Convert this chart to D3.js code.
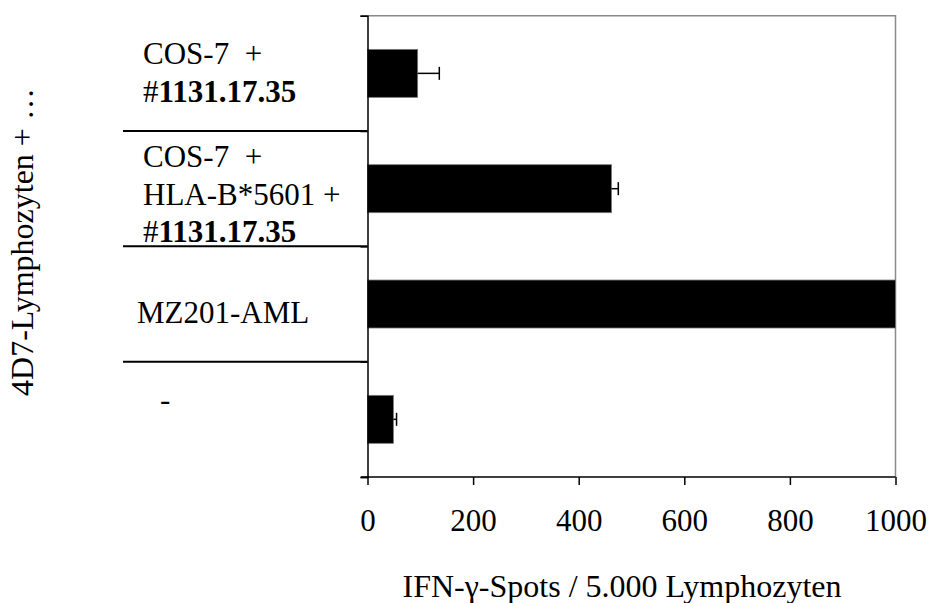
<!DOCTYPE html>
<html>
<head>
<meta charset="utf-8">
<script src="https://cdn.jsdelivr.net/npm/d3@7"></script>
<style>
  body { margin: 0; background: #fff; }
  svg { display: block; font-family: "Liberation Serif", "Times New Roman", serif; }
  .lbl { font-size: 31px; white-space: pre; }
  .ttl { font-size: 32px; }
</style>
</head>
<body>
<svg id="chart" width="937" height="603"></svg>
<script>
// categories top to bottom, as in the figure
var categories = ["COS-7 + #1131.17.35", "COS-7 + HLA-B*5601 + #1131.17.35", "MZ201-AML", "-"];
var values = [95, 462, 1000, 49];
var errors = [41, 13, 0, 6];
var xTicks = [0, 200, 400, 600, 800, 1000];
// label lines, [text, bold?] segments
var labelLines = [
  [[["COS-7  +", false]], [["#", false], ["1131.17.35", true]]],
  [[["COS-7  +", false]], [["HLA-B*5601 +", false]], [["#", false], ["1131.17.35", true]]],
  [[["MZ201-AML", false]]],
  [[["-", false]]]
];
var xTitle = "IFN-\u03b3-Spots / 5.000 Lymphozyten";
var yTitle = "4D7-Lymphozyten + \u2026";

function drawChart() {
  var svg = d3.select("#chart");
  var pLeft = 367.5, pRight = 895.5, pTop = 15.7, pBottom = 477;

  var x = d3.scaleLinear().domain([0, 1000]).range([pLeft, pRight]);
  var y = d3.scaleBand().domain(categories).range([pTop, pBottom])
    .paddingInner(0.584).paddingOuter(0.292);
  var step = y.step();

  // label placement (x start, first baseline offset from band top)
  var labelPos = [[143, 48.3], [143, 36], [137, 76.8], [160, 48]];
  var lineGap = 37.7;

  // plot border top/right
  svg.append("path")
    .attr("d", "M" + pLeft + "," + pTop + "H" + pRight + "V" + pBottom)
    .attr("fill", "none").attr("stroke", "#8a8a8a").attr("stroke-width", 1.5);

  // separators between categories
  for (var i = 1; i < categories.length; i++) {
    var yy = pTop + i * step;
    svg.append("line")
      .attr("x1", 123).attr("x2", pLeft)
      .attr("y1", yy).attr("y2", yy)
      .attr("stroke", "#000").attr("stroke-width", 2);
  }

  // bars
  svg.selectAll("rect.bar").data(values).enter().append("rect")
    .attr("class", "bar")
    .attr("x", x(0))
    .attr("y", function(d, i) { return y(categories[i]); })
    .attr("width", function(d) { return x(d) - x(0); })
    .attr("height", y.bandwidth())
    .attr("fill", "#000").attr("stroke", "#777").attr("stroke-width", 0.8);

  // error bars
  values.forEach(function(d, i) {
    if (!errors[i]) return;
    var cy = y(categories[i]) + y.bandwidth() / 2;
    var g = svg.append("g").attr("stroke", "#000").attr("stroke-width", 1.5);
    g.append("line").attr("x1", x(d)).attr("x2", x(d + errors[i])).attr("y1", cy).attr("y2", cy);
    g.append("line").attr("x1", x(d + errors[i])).attr("x2", x(d + errors[i]))
      .attr("y1", cy - 6.5).attr("y2", cy + 6.5);
  });

  // y axis with ticks at category boundaries
  var yb = d3.scaleLinear().domain([0, categories.length]).range([pTop, pBottom]);
  var yAxis = svg.append("g").attr("transform", "translate(" + pLeft + ",0)")
    .call(d3.axisLeft(yb).tickValues(d3.range(categories.length + 1)).tickSize(7).tickFormat(""));
  yAxis.selectAll("path,line").attr("stroke", "#000").attr("stroke-width", 1.5);

  // x axis
  var xAxis = svg.append("g").attr("transform", "translate(0," + pBottom + ")")
    .call(d3.axisBottom(x).tickValues(xTicks).tickSize(8).tickPadding(24)
      .tickSizeOuter(0).tickFormat(d3.format("d")));
  xAxis.select(".domain").attr("d", "M361,0H" + pRight);
  xAxis.selectAll("path,line").attr("stroke", "#000").attr("stroke-width", 1.5);
  xAxis.selectAll("text").attr("class", "lbl").attr("fill", "#000")
    .style("font-family", "Liberation Serif");

  // category labels
  labelLines.forEach(function(lines, i) {
    var t = svg.append("text").attr("class", "lbl");
    var y0 = i * step + pTop + labelPos[i][1];
    lines.forEach(function(segs, j) {
      segs.forEach(function(s, k) {
        var ts = t.append("tspan").text(s[0]);
        if (k == 0) ts.attr("x", labelPos[i][0]).attr("y", y0 + j * lineGap);
        if (s[1]) ts.attr("font-weight", "bold");
      });
    });
  });

  // axis titles
  svg.append("text").attr("class", "lbl ttl")
    .attr("x", 622).attr("y", 597).attr("text-anchor", "middle")
    .text(xTitle);
  svg.append("text").attr("class", "lbl ttl")
    .attr("text-anchor", "middle")
    .attr("transform", "translate(33,242) rotate(-90)")
    .text(yTitle);
}

drawChart();
</script>
</body>
</html>
